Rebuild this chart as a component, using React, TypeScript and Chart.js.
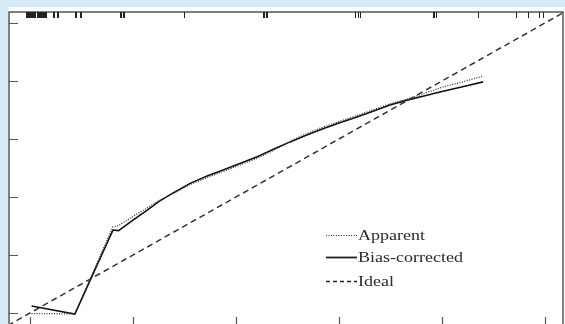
import { useEffect, useRef } from "react";
import { Chart, registerables } from "chart.js";

Chart.register(...registerables);

// Calibration curve data (predicted probability vs. actual probability)
const apparentX = [0.003, 0.087, 0.161, 0.172, 0.2, 0.227, 0.25, 0.278, 0.311, 0.345, 0.375, 0.41, 0.44, 0.475, 0.505, 0.535, 0.569, 0.6, 0.635, 0.67, 0.699, 0.732, 0.765, 0.796, 0.84, 0.88];
const apparentY = [-0.002, -0.003, 0.297, 0.302, 0.333, 0.362, 0.387, 0.413, 0.443, 0.468, 0.488, 0.512, 0.533, 0.563, 0.592, 0.617, 0.641, 0.66, 0.681, 0.703, 0.721, 0.737, 0.757, 0.776, 0.797, 0.817];

const biasX = [0.003, 0.087, 0.161, 0.172, 0.2, 0.227, 0.25, 0.278, 0.311, 0.345, 0.375, 0.41, 0.44, 0.475, 0.505, 0.535, 0.569, 0.6, 0.635, 0.67, 0.699, 0.732, 0.765, 0.796, 0.84, 0.88];
const biasY = [0.024, -0.004, 0.286, 0.284, 0.32, 0.354, 0.384, 0.414, 0.447, 0.473, 0.493, 0.517, 0.538, 0.566, 0.59, 0.612, 0.635, 0.655, 0.676, 0.698, 0.717, 0.734, 0.748, 0.762, 0.78, 0.797];

const idealX = [-0.06, 1.06];
const idealY = [-0.06, 1.06];

const xTickValues = [0, 0.2, 0.4, 0.6, 0.8, 1.0];
const yTickValues = [0, 0.2, 0.4, 0.6, 0.8, 1.0];

// Rug of predicted probabilities along the top axis
const rugValues = [
  -0.007, -0.006, -0.005, -0.004, -0.003, -0.002, -0.001, 0.0, 0.001, 0.002, 0.003, 0.004, 0.005, 0.006, 0.007, 0.008, 0.009,
  0.013, 0.014, 0.015, 0.016, 0.017, 0.018, 0.019, 0.02, 0.021, 0.022, 0.023, 0.024, 0.025, 0.026, 0.027, 0.028, 0.029, 0.03, 0.031,
  0.045, 0.047, 0.052, 0.054, 0.088, 0.09, 0.097, 0.099, 0.175, 0.177, 0.181, 0.183, 0.299,
  0.452, 0.454, 0.459, 0.461, 0.631, 0.636, 0.641, 0.783, 0.785, 0.788,
  0.87, 0.943, 0.968, 0.988, 0.996,
];

const legendLabels = ["Apparent", "Bias-corrected", "Ideal"];

const toPoints = (xs: number[], ys: number[]) => xs.map((x, i) => ({ x, y: ys[i] }));

const decorPlugin = {
  id: "decor",
  afterDraw(chart: any) {
    const { ctx, chartArea } = chart;
    const xs = chart.scales.x;
    const ys = chart.scales.y;
    ctx.save();
    // frame
    ctx.strokeStyle = "#555";
    ctx.lineWidth = 1.5;
    ctx.strokeRect(chartArea.left, chartArea.top, chartArea.right - chartArea.left, chartArea.bottom - chartArea.top);
    // inward ticks
    ctx.lineWidth = 1.2;
    ctx.strokeStyle = "#555";
    ctx.beginPath();
    for (const v of yTickValues) {
      const py = Math.round(ys.getPixelForValue(v)) + 0.5;
      ctx.moveTo(chartArea.left, py);
      ctx.lineTo(chartArea.left + 9, py);
    }
    for (const v of xTickValues) {
      const px = Math.round(xs.getPixelForValue(v)) + 0.5;
      ctx.moveTo(px, chartArea.bottom);
      ctx.lineTo(px, chartArea.bottom - 8);
    }
    ctx.stroke();
    // rug
    ctx.strokeStyle = "#222";
    ctx.lineWidth = 1;
    ctx.beginPath();
    for (const v of rugValues) {
      const px = Math.round(xs.getPixelForValue(v)) + 0.5;
      ctx.moveTo(px, chartArea.top);
      ctx.lineTo(px, chartArea.top + 6);
    }
    ctx.stroke();
    // legend
    const lx0 = 318;
    const lx1 = 349;
    const rows = [228, 250, 274];
    const dashes = [[1, 1.5], [], [4, 3]];
    const widths = [1, 1.8, 1.3];
    rows.forEach((ry, i) => {
      ctx.beginPath();
      ctx.setLineDash(dashes[i]);
      ctx.lineWidth = widths[i];
      ctx.strokeStyle = "#222";
      ctx.moveTo(lx0, ry + 0.5);
      ctx.lineTo(lx1, ry + 0.5);
      ctx.stroke();
      ctx.setLineDash([]);
      ctx.save();
      ctx.translate(350, ry + 5);
      ctx.scale(1.2, 1);
      ctx.fillStyle = "#2a2a2a";
      ctx.font = '15px "Liberation Serif", serif';
      ctx.textBaseline = "alphabetic";
      ctx.fillText(legendLabels[i], 0, 0);
      ctx.restore();
    });
    ctx.restore();
  },
};

export default function App() {
  const ref = useRef<HTMLCanvasElement | null>(null);
  useEffect(() => {
    if (!ref.current) return;
    const chart = new Chart(ref.current, {
      type: "line",
      data: {
        datasets: [
          {
            label: legendLabels[2],
            data: toPoints(idealX, idealY),
            borderColor: "#333",
            borderWidth: 1.5,
            borderDash: [6, 4],
            pointRadius: 0,
            tension: 0,
          },
          {
            label: legendLabels[0],
            data: toPoints(apparentX, apparentY),
            borderColor: "#333",
            borderWidth: 1.3,
            borderDash: [1, 1.5],
            pointRadius: 0,
            tension: 0,
          },
          {
            label: legendLabels[1],
            data: toPoints(biasX, biasY),
            borderColor: "#111",
            borderWidth: 1.6,
            pointRadius: 0,
            tension: 0,
          },
        ],
      },
      options: {
        responsive: false,
        animation: false,
        events: [],
        layout: { padding: { left: 1, right: 2, top: 5, bottom: 0 } },
        plugins: { legend: { display: false }, tooltip: { enabled: false } },
        scales: {
          x: { type: "linear", min: -0.0408, max: 1.035, display: false },
          y: { type: "linear", min: -0.0414, max: 1.0379, display: false },
        },
      },
      plugins: [decorPlugin],
    });
    return () => chart.destroy();
  }, []);
  return (
    <div style={{ position: "fixed", inset: 0, background: "#d5ebf8", overflow: "hidden" }}>
      <canvas
        ref={ref}
        width={557}
        height={318}
        style={{ position: "absolute", left: 8, top: 7, width: 557, height: 318, background: "#fff", display: "block" }}
      />
    </div>
  );
}
